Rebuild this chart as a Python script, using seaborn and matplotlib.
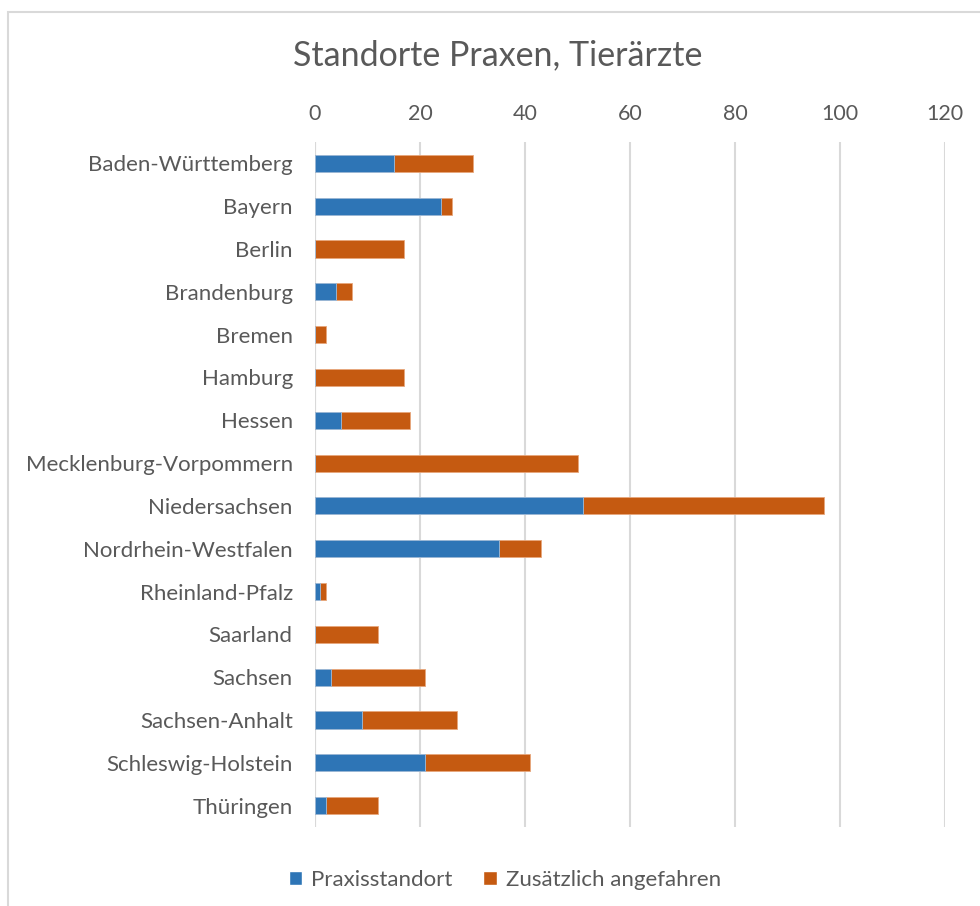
import matplotlib
matplotlib.use('Agg')
import matplotlib.pyplot as plt
import seaborn as sns
import pandas as pd
from matplotlib.patches import Rectangle, Patch

# Daten
bundeslaender = ['Baden-Württemberg', 'Bayern', 'Berlin', 'Brandenburg', 'Bremen',
                 'Hamburg', 'Hessen', 'Mecklenburg-Vorpommern', 'Niedersachsen',
                 'Nordrhein-Westfalen', 'Rheinland-Pfalz', 'Saarland', 'Sachsen',
                 'Sachsen-Anhalt', 'Schleswig-Holstein', 'Thüringen']
praxisstandort = [15, 24, 0, 4, 0, 0, 5, 0, 51, 35, 1, 0, 3, 9, 21, 2]
zusaetzlich = [15, 2, 17, 3, 2, 17, 13, 50, 46, 8, 1, 12, 18, 18, 20, 10]
x_ticks = [0, 20, 40, 60, 80, 100, 120]

BLAU = '#2E75B6'
ORANGE = '#C55A11'
GRAU = '#595959'

df = pd.DataFrame({'Land': bundeslaender,
                   'Praxisstandort': praxisstandort,
                   'Zusätzlich angefahren': zusaetzlich})
df['Gesamt'] = df['Praxisstandort'] + df['Zusätzlich angefahren']

sns.set_style('white')
plt.rcParams['font.family'] = ['Lato', 'DejaVu Sans']

fig = plt.figure(figsize=(9.8, 9.06), dpi=100)
ax = fig.add_axes([315 / 980, 1 - 827 / 906, 630 / 980, 685 / 906])

# gestapelt: erst Gesamt (orange), dann Praxisstandort (blau) darüber
sns.barplot(data=df, x='Gesamt', y='Land', color=ORANGE, width=0.4,
            saturation=1, ax=ax, orient='h', edgecolor='#e8a77c', linewidth=0.6)
sns.barplot(data=df, x='Praxisstandort', y='Land', color=BLAU, width=0.4,
            saturation=1, ax=ax, orient='h', edgecolor='#9dbfe0', linewidth=0.6)

ax.set_xlim(0, 120)
ax.set_xticks(x_ticks)
ax.xaxis.tick_top()
ax.set_xlabel('')
ax.set_ylabel('')
ax.grid(axis='x', color='#d9d9d9', linewidth=1.5)
ax.set_axisbelow(True)
for s in ax.spines.values():
    s.set_visible(False)
ax.axvline(0, color='#d9d9d9', linewidth=1.5, zorder=0.5)
ax.tick_params(axis='x', length=0, pad=13, labelsize=15.5, labelcolor=GRAU)
ax.tick_params(axis='y', length=0, pad=16, labelsize=16, labelcolor=GRAU)

fig.text(0.508, 1 - 55 / 906, 'Standorte Praxen, Tierärzte', ha='center', va='center',
         fontsize=24.5, color=GRAU)

handles = [Patch(facecolor=BLAU, label='Praxisstandort'),
           Patch(facecolor=ORANGE, label='Zusätzlich angefahren')]
fig.legend(handles=handles, loc='center', bbox_to_anchor=(0.515, 1 - 880 / 906), ncol=2,
           frameon=False, fontsize=16, labelcolor=GRAU, handlelength=0.6,
           handleheight=0.6, handletextpad=0.4, columnspacing=1.4)

# Rahmen um das Diagramm
fig.patches.append(Rectangle((8 / 980, -0.05), 1.1, 1 - 12 / 906 + 0.05,
                             transform=fig.transFigure, fill=False,
                             edgecolor='#d9d9d9', linewidth=1.5))

fig.savefig('out.png', dpi=100)
